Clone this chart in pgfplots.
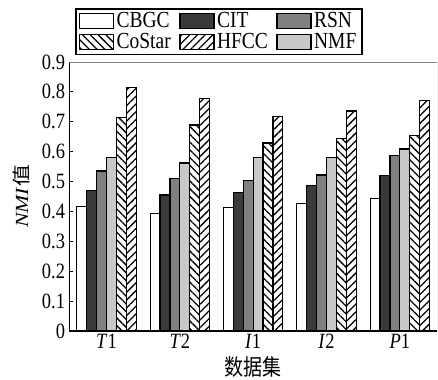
\documentclass[border=0pt]{standalone}
\usepackage{pgfplots}
\pgfplotsset{compat=1.18}
\usepackage{fontspec}
\setmainfont{Liberation Serif}
\newfontfamily\cjk{Noto Sans CJK SC}
\usetikzlibrary{patterns.meta}
\definecolor{citc}{RGB}{58,58,58}
\definecolor{rsnc}{RGB}{128,128,128}
\definecolor{nmfc}{RGB}{200,200,200}
\newcommand{\vs}[1]{\scalebox{1}[1.18]{#1}}
\tikzset{
  hatchB/.style={pattern={Lines[angle=-45,distance=5.5bp,line width=1.3bp]}},
  hatchF/.style={pattern={Lines[angle=45,distance=5.5bp,line width=1.3bp]}},
}
\begin{document}
\fontsize{18.5bp}{21bp}\selectfont
\begin{tikzpicture}
\useasboundingbox (-69.3bp,-49bp) rectangle (368.7bp,331bp);
\begin{axis}[
  scale only axis,
  width=367.7bp, height=269bp,
  ybar=0pt, bar width=9.9bp,
  xmin=-0.507, xmax=4.507,
  ymin=0, ymax=0.9,
  ytick={0,0.1,...,0.9},
  yticklabels={\vs{0},\vs{0.1},\vs{0.2},\vs{0.3},\vs{0.4},\vs{0.5},\vs{0.6},\vs{0.7},\vs{0.8},\vs{0.9}},
  xtick={0,1,2,3,4},
  xticklabels={\vs{\textit{T}1},\vs{\textit{T}2},\vs{\textit{I}1},\vs{\textit{I}2},\vs{\textit{P}1}},
  xtick style={draw=none},
  ytick pos=left,
  tick align=inside,
  major tick length=4bp,
  y tick style={line width=1bp,black},
  axis lines*=left,
  axis line style={-, line width=1.5bp, black},
  tick label style={font=\fontsize{18.5bp}{21bp}\selectfont},
  yticklabel style={inner xsep=4bp},
  xticklabel style={inner ysep=3bp},
  xlabel={\vs{\cjk 数据集}},
  xlabel style={font=\fontsize{19bp}{21bp}\selectfont, at={(axis description cs:0.5,-0.134)}, anchor=center},
  ylabel={\scalebox{1.18}[1]{\textit{NMI}{\cjk 值}}},
  ylabel style={font=\fontsize{18.5bp}{21bp}\selectfont, at={(axis description cs:-0.131,0.5)}, anchor=center},
  legend columns=3,
  legend cell align=left,
  legend image code/.code={\draw[#1] (0bp,-7.5bp) rectangle (34bp,7.5bp);},
  legend style={
    at={(axis description cs:0.016,1.026)}, anchor=south west,
    draw=black, line width=1.5bp,
    inner xsep=3bp, inner ysep=1.5bp,
    font=\fontsize{19.5bp}{21bp}\selectfont,
    nodes={inner xsep=2.5bp, inner ysep=1.5bp},
    /tikz/every even column/.append style={column sep=6bp},
  },
]
\addplot[fill=white, draw=black, line width=1.2bp, forget plot, bar shift=-24.75bp] coordinates {(0,0.417) (1,0.394) (2,0.412) (3,0.427) (4,0.443)};
\addplot[fill=citc, draw=black, line width=1.2bp, forget plot, bar shift=-14.85bp] coordinates {(0,0.470) (1,0.455) (2,0.463) (3,0.488) (4,0.521)};
\addplot[fill=rsnc, draw=black, line width=1.2bp, forget plot, bar shift=-4.95bp] coordinates {(0,0.535) (1,0.511) (2,0.503) (3,0.522) (4,0.586)};
\addplot[fill=nmfc, draw=black, line width=1.2bp, forget plot, bar shift=4.95bp] coordinates {(0,0.581) (1,0.562) (2,0.581) (3,0.581) (4,0.609)};
\addplot[hatchB, draw=black, line width=1.2bp, forget plot, bar shift=14.85bp] coordinates {(0,0.713) (1,0.689) (2,0.629) (3,0.643) (4,0.654)};
\addplot[hatchF, draw=black, line width=1.2bp, forget plot, bar shift=24.75bp] coordinates {(0,0.814) (1,0.777) (2,0.717) (3,0.736) (4,0.772)};
\draw[gray, line width=0.6bp] (rel axis cs:0,1) -- (rel axis cs:1,1) -- (rel axis cs:1,0);
\addlegendimage{fill=white, draw=black, line width=1.2bp}
\addlegendentry{\vs{CBGC}}
\addlegendimage{fill=citc, draw=black, line width=1.2bp}
\addlegendentry{\vs{CIT}}
\addlegendimage{fill=rsnc, draw=black, line width=1.2bp}
\addlegendentry{\vs{RSN}}
\addlegendimage{hatchB, draw=black, line width=1.2bp}
\addlegendentry{\vs{CoStar}}
\addlegendimage{hatchF, draw=black, line width=1.2bp}
\addlegendentry{\vs{HFCC}}
\addlegendimage{fill=nmfc, draw=black, line width=1.2bp}
\addlegendentry{\vs{NMF}}
\end{axis}
\end{tikzpicture}
\end{document}
